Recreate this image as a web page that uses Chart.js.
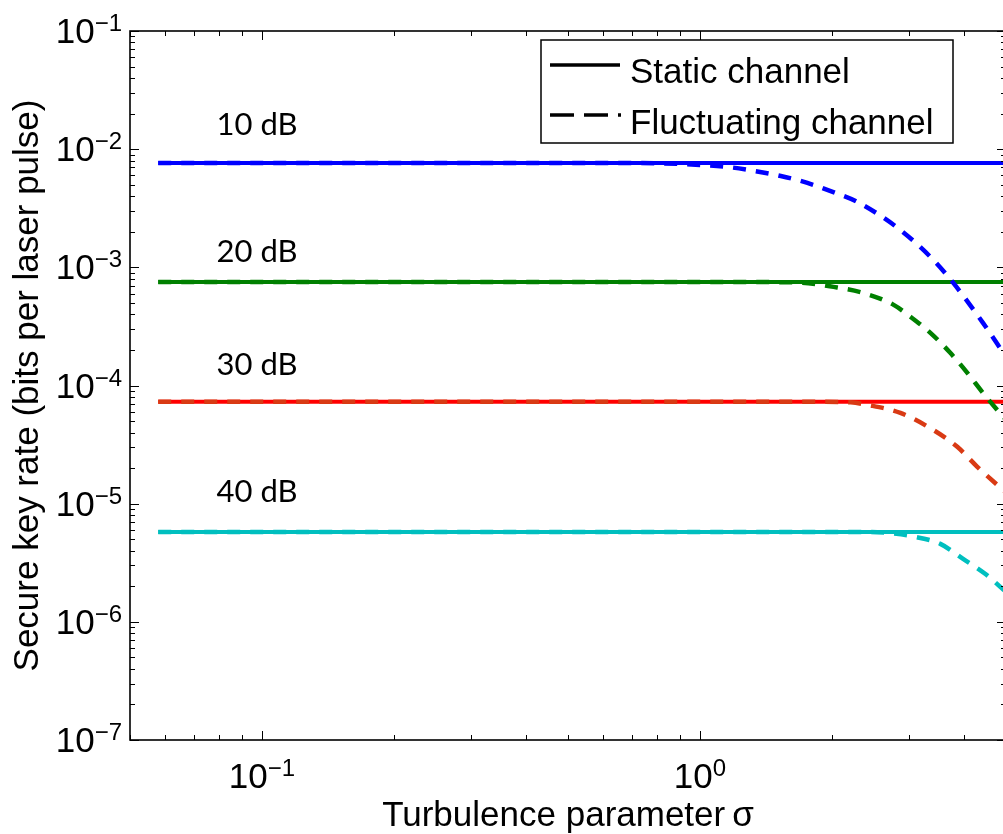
<!DOCTYPE html>
<html>
<head>
<meta charset="utf-8">
<title>Secure key rate vs turbulence</title>
<script src="https://cdn.jsdelivr.net/npm/chart.js@4.4.1/dist/chart.umd.min.js"></script>
<style>
    html, body { margin: 0; padding: 0; overflow: hidden; background: #fff; }
    #wrap { width: 1010px; height: 834px; }
</style>
</head>
<body>
<div id="wrap"><canvas id="keyRateChart" width="1010" height="834"></canvas></div>

<script>
// values
const lossLabels = ['10 dB', '20 dB', '30 dB', '40 dB'];
const labelSigma = 0.0975;
const labelRate = [1.32e-2, 1.11e-3, 1.23e-4, 1.04e-5];

const staticSigma = [0.058, 5];
const staticRate = [7.64e-3, 7.5e-4, 7.28e-5, 5.77e-6];

const fluct10Sigma = [0.058, 0.73, 1.0, 1.16, 1.33, 1.53, 1.76, 2.01, 2.29, 2.87, 3.41, 3.79, 4.43, 4.95];
const fluct10Rate  = [7.64e-3, 7.64e-3, 7.35e-3, 7.06e-3, 6.54e-3, 5.93e-3, 5.18e-3, 4.35e-3, 3.57e-3, 2.07e-3, 1.16e-3, 7.38e-4, 3.39e-4, 1.85e-4];

const fluct20Sigma = [0.058, 1.4, 1.70, 2.02, 2.36, 2.77, 3.03, 3.36, 3.73, 4.08, 4.43, 4.95];
const fluct20Rate  = [7.5e-4, 7.5e-4, 7.43e-4, 6.83e-4, 6.07e-4, 4.81e-4, 3.80e-4, 2.79e-4, 1.89e-4, 1.28e-4, 8.65e-5, 5.3e-5];

const fluct30Sigma = [0.058, 1.9, 2.21, 2.41, 2.87, 3.41, 3.87, 4.30, 4.95];
const fluct30Rate  = [7.28e-5, 7.28e-5, 7.2e-5, 6.86e-5, 5.86e-5, 4.21e-5, 3.03e-5, 2.05e-5, 1.28e-5];

const fluct40Sigma = [0.058, 2.45, 2.75, 3.10, 3.54, 3.99, 4.48, 4.95];
const fluct40Rate  = [5.77e-6, 5.77e-6, 5.6e-6, 5.24e-6, 4.57e-6, 3.41e-6, 2.55e-6, 1.85e-6];

const xTickExps = [-1, 0];
const yTickExps = [-7, -6, -5, -4, -3, -2, -1];

const staticColors = ['rgb(0,0,255)', 'rgb(0,128,0)', 'rgb(255,0,0)', 'rgb(0,191,191)'];
const fluctColors  = ['rgb(0,0,255)', 'rgb(0,128,0)', 'rgb(217,58,20)', 'rgb(0,191,191)'];

function toPoints(xs, ys) {
    return xs.map((v, i) => ({ x: v, y: ys[i] }));
}

const fluctSets = [
    [fluct10Sigma, fluct10Rate],
    [fluct20Sigma, fluct20Rate],
    [fluct30Sigma, fluct30Rate],
    [fluct40Sigma, fluct40Rate]
];

const datasets = [];
fluctSets.forEach((s, i) => {
    datasets.push({
        label: 'Fluctuating ' + lossLabels[i],
        data: toPoints(s[0], s[1]),
        borderColor: fluctColors[i],
        borderWidth: 4.5,
        borderDash: [13, 10],
        cubicInterpolationMode: 'monotone',
        pointRadius: 0,
        order: 0
    });
});
staticRate.forEach((r, i) => {
    datasets.push({
        label: 'Static ' + lossLabels[i],
        data: toPoints(staticSigma, staticSigma.map(() => r)),
        borderColor: staticColors[i],
        borderWidth: 4,
        pointRadius: 0,
        order: 1
    });
});

const SANS = '"Liberation Sans", Arial, Helvetica, sans-serif';

function drawPower(ctx, exp, x, baseY, align) {
    ctx.font = '35px ' + SANS;
    const base = '10';
    const wb = ctx.measureText(base).width;
    ctx.font = '24px ' + SANS;
    const sup = (exp < 0 ? '\u2212' : '') + Math.abs(exp);
    const ws = ctx.measureText(sup).width;
    let left;
    if (align === 'right') left = x - wb - ws;
    else left = x - (wb + ws) / 2;
    ctx.textAlign = 'left';
    ctx.textBaseline = 'alphabetic';
    ctx.font = '35px ' + SANS;
    ctx.fillText(base, left, baseY);
    ctx.font = '24px ' + SANS;
    ctx.fillText(sup, left + wb, baseY - 12);
}

const framePlugin = {
    id: 'frame',
    afterDatasetsDraw(chart) {
        const { ctx, chartArea: a, scales: { x, y } } = chart;
        ctx.save();
        ctx.strokeStyle = '#000';
        ctx.fillStyle = '#000';

        // inward tick marks on all four sides
        ctx.lineWidth = 1;
        ctx.beginPath();
        for (let d = -2; d <= 0; d++) {
            for (let m = 1; m <= 9; m++) {
                const v = m * Math.pow(10, d);
                if (v < x.min || v > x.max) continue;
                const px = Math.round(x.getPixelForValue(v)) + 0.5;
                const len = m === 1 ? 9 : 5;
                ctx.moveTo(px, a.bottom); ctx.lineTo(px, a.bottom - len);
                ctx.moveTo(px, a.top); ctx.lineTo(px, a.top + len);
            }
        }
        for (let d = -7; d <= -1; d++) {
            for (let m = 1; m <= 9; m++) {
                const v = m * Math.pow(10, d);
                if (v < y.min * 0.999 || v > y.max * 1.001) continue;
                const py = Math.round(y.getPixelForValue(v)) + 0.5;
                const len = m === 1 ? 9 : 5;
                ctx.moveTo(a.left, py); ctx.lineTo(a.left + len, py);
                ctx.moveTo(a.right, py); ctx.lineTo(a.right - len, py);
            }
        }
        ctx.stroke();

        ctx.lineWidth = 1.6;
        ctx.strokeRect(a.left, a.top, a.right - a.left, a.bottom - a.top);

        // tick labels
        xTickExps.forEach(e => drawPower(ctx, e, x.getPixelForValue(Math.pow(10, e)), 788, 'center'));
        yTickExps.forEach(e => drawPower(ctx, e, 122, y.getPixelForValue(Math.pow(10, e)) + 12, 'right'));

        // axis titles
        ctx.font = '35px ' + SANS;
        ctx.textAlign = 'center';
        ctx.textBaseline = 'alphabetic';
        ctx.fillText('Turbulence parameter\u2009\u03c3', (a.left + a.right) / 2, 826);
        ctx.save();
        ctx.translate(38, (a.top + a.bottom) / 2);
        ctx.rotate(-Math.PI / 2);
        ctx.fillText('Secure key rate (bits per laser pulse)', 0, 0);
        ctx.restore();

        // attenuation labels
        ctx.font = '31px Lato, "Open Sans", sans-serif';
        ctx.textAlign = 'center';
        lossLabels.forEach((t, i) => {
            ctx.fillText(t, x.getPixelForValue(labelSigma), y.getPixelForValue(labelRate[i]));
        });

        // legend box
        ctx.fillStyle = '#fff';
        ctx.fillRect(541, 40, 412, 103);
        ctx.lineWidth = 1.5;
        ctx.strokeRect(541, 40, 412, 103);
        ctx.lineWidth = 3.5;
        ctx.beginPath();
        ctx.moveTo(550, 65); ctx.lineTo(620, 65);
        ctx.stroke();
        ctx.setLineDash([24, 10]);
        ctx.beginPath();
        ctx.moveTo(550, 115); ctx.lineTo(621, 115);
        ctx.stroke();
        ctx.setLineDash([]);
        ctx.fillStyle = '#000';
        ctx.font = '35px ' + SANS;
        ctx.textAlign = 'left';
        ctx.fillText('Static channel', 630, 83);
        ctx.fillText('Fluctuating channel', 630, 134);
        ctx.restore();
    }
};

new Chart(document.getElementById('keyRateChart').getContext('2d'), {
    type: 'line',
    data: { datasets: datasets },
    options: {
        responsive: false,
        animation: false,
        layout: { padding: { left: 130, top: 31, right: 4, bottom: 94 } },
        plugins: { legend: { display: false }, tooltip: { enabled: false } },
        scales: {
            x: { type: 'logarithmic', min: 0.05, max: 5, display: false },
            y: { type: 'logarithmic', min: 1e-7, max: 1e-1, display: false }
        }
    },
    plugins: [framePlugin]
});
</script>
</body>
</html>
